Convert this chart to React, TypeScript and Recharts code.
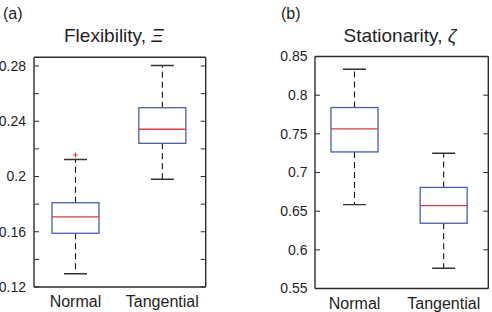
import React from 'react';
import { ComposedChart, Bar, XAxis, YAxis, ReferenceLine } from 'recharts';

const groups = ['Normal', 'Tangential'];

// Flexibility: whisker ends, quartiles, median, outliers
const flexMin = [0.1296, 0.198];
const flexQ1 = [0.1589, 0.224];
const flexMedian = [0.1707, 0.2342];
const flexQ3 = [0.181, 0.2498];
const flexMax = [0.2123, 0.2804];
const flexOutliers = [[0.2156], []];
const flexTicks = [0.12, 0.14, 0.16, 0.18, 0.2, 0.22, 0.24, 0.26, 0.28];
const flexLabels = ['0.12', '', '0.16', '', '0.2', '', '0.24', '', '0.28'];

// Stationarity
const statMin = [0.6585, 0.5762];
const statQ1 = [0.7266, 0.6344];
const statMedian = [0.7565, 0.6572];
const statQ3 = [0.784, 0.6807];
const statMax = [0.8336, 0.7248];
const statOutliers = [[], []];
const statTicks = [0.55, 0.6, 0.65, 0.7, 0.75, 0.8, 0.85];
const statLabels = ['0.55', '0.6', '0.65', '0.7', '0.75', '0.8', '0.85'];

const FONT = '"Liberation Sans", Arial, Helvetica, sans-serif';
const AXIS = '#2b2b2b';
const BOX = '#4a5cb0';
const MEDIAN = '#e2363f';

type Row = {
  name: string;
  min: number;
  q1: number;
  median: number;
  q3: number;
  max: number;
  outliers: number[];
};

const buildRows = (
  min: number[], q1: number[], median: number[], q3: number[], max: number[], outliers: number[][]
): Row[] =>
  groups.map((name, i) => ({
    name,
    min: min[i],
    q1: q1[i],
    median: median[i],
    q3: q3[i],
    max: max[i],
    outliers: outliers[i],
  }));

const flexRows = buildRows(flexMin, flexQ1, flexMedian, flexQ3, flexMax, flexOutliers);
const statRows = buildRows(statMin, statQ1, statMedian, statQ3, statMax, statOutliers);

// The bar spans min..max; everything else is placed along that same pixel range
const BoxShape = (props: any) => {
  const { x, y, width, height, payload } = props;
  if (!payload) return null;
  const top = Math.min(y, y + height);
  const bottom = Math.max(y, y + height);
  const lo = payload.min;
  const hi = payload.max;
  const py = (v: number) => bottom - ((v - lo) / (hi - lo)) * (bottom - top);
  const cx = x + width / 2;
  const yq1 = py(payload.q1);
  const yq3 = py(payload.q3);
  const ymed = py(payload.median);
  const cap = 11.5;
  return (
    <g>
      <line x1={cx} x2={cx} y1={yq3} y2={top} stroke="#111" strokeWidth={1.1} strokeDasharray="6 4" />
      <line x1={cx} x2={cx} y1={yq1} y2={bottom} stroke="#111" strokeWidth={1.1} strokeDasharray="6 4" />
      <line x1={cx - cap} x2={cx + cap} y1={top} y2={top} stroke="#333" strokeWidth={1.4} />
      <line x1={cx - cap} x2={cx + cap} y1={bottom} y2={bottom} stroke="#333" strokeWidth={1.4} />
      <rect x={x} y={yq3} width={width} height={yq1 - yq3} fill="#fff" stroke={BOX} strokeWidth={1.3} />
      <line x1={x} x2={x + width} y1={ymed} y2={ymed} stroke={MEDIAN} strokeWidth={1.3} />
      {payload.outliers.map((o: number, i: number) => {
        const oy = py(o);
        return (
          <g key={i} stroke={MEDIAN} strokeWidth={1}>
            <line x1={cx - 2.5} x2={cx + 2.5} y1={oy} y2={oy} />
            <line x1={cx} x2={cx} y1={oy - 2.5} y2={oy + 2.5} />
          </g>
        );
      })}
    </g>
  );
};

const LeftTick = (props: any, labels: string[], gap: number) => {
  const { x, y, index } = props;
  const label = labels[index];
  return (
    <g>
      <line x1={x} x2={x + 5} y1={y} y2={y} stroke={AXIS} strokeWidth={1} />
      {label ? (
        <text x={x - gap} y={y} dy="0.34em" textAnchor="end" fontSize={14} fontFamily={FONT} fill="#1e1e1e">
          {label}
        </text>
      ) : null}
    </g>
  );
};

const RightTick = (props: any) => {
  const { x, y } = props;
  return <line x1={x - 5} x2={x} y1={y} y2={y} stroke={AXIS} strokeWidth={1} />;
};

const CategoryTick = (props: any) => {
  const { x, y, payload } = props;
  return (
    <text x={x} y={y + 20} textAnchor="middle" fontSize={16} fontFamily={FONT} fill="#1e1e1e">
      {payload.value}
    </text>
  );
};

type PanelProps = {
  rows: Row[];
  domain: [number, number];
  ticks: number[];
  labels: string[];
  margin: { top: number; right: number; bottom: number; left: number };
  axisWidth: number;
  axisHeight: number;
  labelGap: number;
  padLeft: number;
};

const BoxPanel = ({ rows, domain, ticks, labels, margin, axisWidth, axisHeight, labelGap, padLeft }: PanelProps) => (
  <ComposedChart width={246} height={312} data={rows} margin={margin}>
    <XAxis
      dataKey="name"
      type="category"
      allowDuplicatedCategory={false}
      interval={0}
      height={axisHeight}
      padding={{ left: padLeft, right: 0 }}
      axisLine={{ stroke: AXIS, strokeWidth: 1.4 }}
      tickLine={false}
      tickSize={0}
      tickMargin={0}
      tick={CategoryTick}
    />
    <YAxis
      yAxisId="l"
      type="number"
      domain={domain}
      ticks={ticks}
      allowDataOverflow
      width={axisWidth}
      axisLine={{ stroke: AXIS, strokeWidth: 1.4 }}
      tickLine={false}
      tickSize={0}
      tickMargin={0}
      tick={(p: any) => LeftTick(p, labels, labelGap)}
    />
    <YAxis
      yAxisId="r"
      orientation="right"
      type="number"
      domain={domain}
      ticks={ticks}
      allowDataOverflow
      width={1}
      axisLine={{ stroke: AXIS, strokeWidth: 1.4 }}
      tickLine={false}
      tickSize={0}
      tickMargin={0}
      tick={RightTick}
    />
    <ReferenceLine yAxisId="l" y={domain[1]} stroke={AXIS} strokeWidth={1.4} />
    <Bar
      yAxisId="l"
      dataKey={(d: Row) => [d.min, d.max]}
      barSize={47}
      shape={BoxShape}
      isAnimationActive={false}
    />
  </ComposedChart>
);

export default function App() {
  return (
    <div style={{ position: 'absolute', left: 0, top: 0, width: 492, height: 312, background: '#fff' }}>
      <div style={{ position: 'absolute', left: 0, top: 0 }}>
        <BoxPanel
          rows={flexRows}
          domain={[0.12, 0.2863]}
          ticks={flexTicks}
          labels={flexLabels}
          margin={{ top: 57.3, right: 39.3, bottom: 0, left: 0 }}
          axisWidth={34}
          axisHeight={25}
          labelGap={8}
          padLeft={-2}
        />
      </div>
      <div style={{ position: 'absolute', left: 246, top: 0 }}>
        <BoxPanel
          rows={statRows}
          domain={[0.55, 0.85]}
          ticks={statTicks}
          labels={statLabels}
          margin={{ top: 56.5, right: 2.7, bottom: 0, left: 0 }}
          axisWidth={69}
          axisHeight={23.5}
          labelGap={7.5}
          padLeft={-5}
        />
      </div>
      <svg
        width={492}
        height={312}
        style={{ position: 'absolute', left: 0, top: 0, pointerEvents: 'none' }}
        fontFamily={FONT}
        fill="#1e1e1e"
      >
        <text x={3} y={19} fontSize={16}>(a)</text>
        <text x={281} y={19} fontSize={16}>(b)</text>
        <text x={64} y={42} fontSize={19}>
          Flexibility, <tspan fontStyle="italic">Ξ</tspan>
        </text>
        <text x={343.5} y={42} fontSize={19}>
          Stationarity, <tspan fontStyle="italic">ζ</tspan>
        </text>
      </svg>
    </div>
  );
}
